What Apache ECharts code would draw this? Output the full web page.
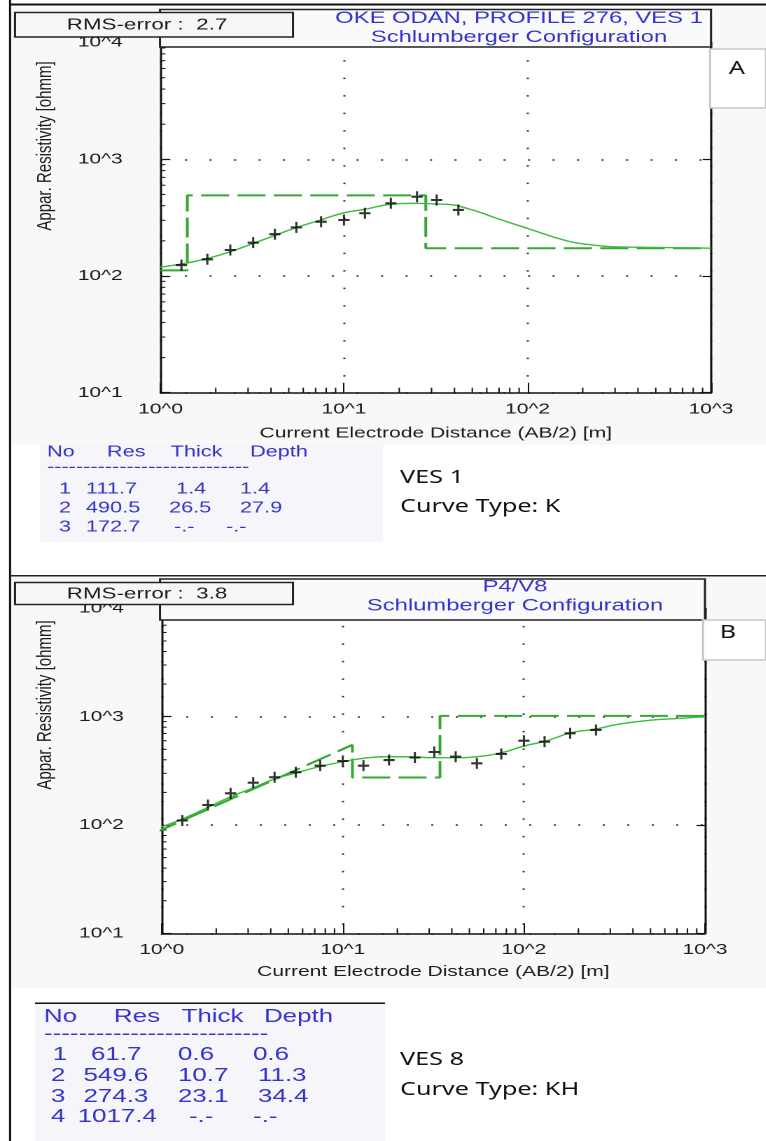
<!DOCTYPE html>
<html>
<head>
<meta charset="utf-8">
<title>VES 1 / VES 8 sounding curves</title>
<script src="https://cdn.jsdelivr.net/npm/echarts@6.0.0/dist/echarts.min.js"></script>
<style>
  html, body { margin: 0; padding: 0; background: #fff; overflow: hidden; }
  /* the reference figure is a screenshot stretched horizontally, so the chart is drawn narrow and stretched */
  #main { width: 547.14px; height: 1141px; transform: scaleX(1.4); transform-origin: 0 0; }
</style>
</head>
<body>
<div id="main"></div>
<script>
  // ---- data ----
  // VES 1 (panel A)
  const abA = [1.3, 1.8, 2.4, 3.2, 4.2, 5.5, 7.5, 10, 13, 18, 25, 32, 42]
  const rhoA = [124, 139, 167, 193, 228, 261, 292, 302, 345, 420, 478, 448, 368]
  const fitAbA = [1, 1.39, 1.82, 2.39, 3.14, 4.12, 5.34, 7.46, 10, 13, 17.9, 24.4, 31.5, 36.3, 48.6, 68, 100, 164, 229, 294, 446, 1000]
  const fitRhoA = [119, 129, 142, 161, 188, 220, 256, 302, 348, 373, 411, 420, 414, 411, 373, 312, 256, 200, 184, 178, 176, 173]
  const resA = [111.7, 490.5, 172.7]
  const thickA = [1.4, 26.5]
  const depthA = [1.4, 27.9]
  const rmsA = '2.7'
  const titleA = 'OKE ODAN, PROFILE 276, VES 1'

  // VES 8 (panel B)
  const abB = [1.3, 1.8, 2.4, 3.2, 4.2, 5.5, 7.5, 10, 13, 18, 25, 32, 42, 55, 75, 100, 130, 180, 250]
  const rhoB = [110, 153, 196, 246, 276, 307, 353, 390, 353, 398, 420, 472, 427, 371, 453, 600, 588, 703, 754]
  const fitAbB = [1, 1.29, 1.81, 2.35, 3.14, 4.19, 5.4, 7.4, 10, 13, 18.1, 24.5, 31.7, 42.3, 55.4, 75.6, 100, 134, 182, 245, 340, 520, 731, 1000]
  const fitRhoB = [96, 113, 146, 179, 218, 266, 300, 345, 384, 413, 428, 425, 418, 418, 428, 466, 536, 600, 711, 765, 857, 933, 966, 1000]
  const resB = [61.7, 549.6, 274.3, 1017.4]
  const thickB = [0.6, 10.7, 23.1]
  const depthB = [0.6, 11.3, 34.4]
  const rmsB = '3.8'
  const titleB = 'P4/V8'

  // axis ranges (decades)
  const xRange = [1, 1000]
  const yRange = [10, 10000]
  const minorSteps = [2, 3, 4, 5, 6, 7, 8, 9]

  // ---- layout ----
  const S = 1.4
  const px = x => x / S
  const FONT = 'Liberation Sans, Arial, sans-serif'
  const INK = '#1c1c1c'
  const BLUE = '#3434cc'
  const FIT = '#3cbb3c'
  const MODEL = '#34a834'

  function minorList (lo, hi) {
    let out = []
    for (let d = lo; d < hi; d *= 10) minorSteps.forEach(m => out.push(d * m))
    return out
  }

  // layered model as a step line
  function modelA (res, depth) {
    let pts = [[xRange[0], res[0]]]
    depth.forEach((d, i) => {
      pts.push([d, res[i]])
      pts.push([d, res[i + 1]])
    })
    pts.push([xRange[1], res[res.length - 1]])
    return pts
  }
  // panel B: the program joins the first layer corner to the second one with a slope
  function modelB (res, depth) {
    let pts = [[depth[0], res[0]], [depth[1], res[1]]]
    for (let i = 1; i < depth.length; i++) {
      if (i > 1) pts.push([depth[i], res[i]])
      pts.push([depth[i], res[i + 1]])
    }
    pts.push([xRange[1], res[res.length - 1]])
    return pts
  }

  function tableRows (res, thick, depth) {
    return res.map((r, i) => [
      String(i + 1),
      r.toFixed(1),
      i < thick.length ? thick[i].toFixed(1) : '-.-',
      i < depth.length ? depth[i].toFixed(1) : '-.-'
    ])
  }

  const powLabel = v => '10^' + Math.round(Math.log10(v))

  function xAxisOf (grid, gap) {
    return {
      type: 'log', logBase: 10, gridIndex: grid, min: xRange[0], max: xRange[1],
      name: 'Current Electrode Distance (AB/2) [m]', nameLocation: 'middle', nameGap: gap,
      nameTextStyle: { color: INK, fontSize: 15, fontFamily: FONT },
      axisLine: { lineStyle: { color: '#111', width: 1.5 } },
      axisTick: { inside: true, length: 10, lineStyle: { color: '#111', width: 1 } },
      axisLabel: { formatter: powLabel, margin: 9, color: INK, fontSize: 15, fontFamily: FONT, showMinLabel: true, showMaxLabel: true, hideOverlap: false },
      splitLine: { show: true, lineStyle: { color: '#333', width: 1.5, type: [1.5, 16] } }
    }
  }
  function yAxisOf (grid, side) {
    let left = side === 'left'
    return {
      type: 'log', logBase: 10, gridIndex: grid, position: side, min: yRange[0], max: yRange[1],
      axisLine: { show: true, lineStyle: { color: '#111', width: 1.5 } },
      axisTick: { show: true, inside: true, length: left ? 7 : 6, lineStyle: { color: '#111', width: 1.2 } },
      axisLabel: { show: left, formatter: powLabel, margin: 27, color: INK, fontSize: 15, fontFamily: FONT, showMinLabel: true, showMaxLabel: true, hideOverlap: false },
      splitLine: { show: left, lineStyle: { color: '#333', width: 1.5, type: [1.5, 16] } }
    }
  }

  function minorTickSeries (xi, yi, vertical) {
    let data = vertical
      ? minorList(xRange[0], xRange[1]).map(v => [v, yRange[0]])
      : minorList(yRange[0], yRange[1]).map(v => [xRange[0], v])
    return {
      type: 'custom', xAxisIndex: xi, yAxisIndex: yi, silent: true, clip: false, z: 3,
      data: data,
      renderItem: (params, api) => {
        let p = api.coord([api.value(0), api.value(1)])
        let shape = vertical
          ? { x1: p[0], y1: p[1], x2: p[0], y2: p[1] - 5 }
          : { x1: p[0], y1: p[1], x2: p[0] + 3.5, y2: p[1] }
        return { type: 'line', shape: shape, style: { stroke: '#111', lineWidth: 1 } }
      }
    }
  }

  const plusSymbol = 'path://M0,4.05H10V5.95H0ZM4.05,0H5.95V10H4.05Z'

  function curveSeries (xi, yi, ab, rho, fitAb, fitRho, model) {
    return [
      {
        type: 'line', xAxisIndex: xi, yAxisIndex: yi, data: model,
        showSymbol: false, symbol: 'none', z: 4,
        lineStyle: { color: MODEL, width: 2, type: [20, 6] }
      },
      {
        type: 'line', xAxisIndex: xi, yAxisIndex: yi, smooth: true,
        data: fitAb.map((x, i) => [x, fitRho[i]]),
        showSymbol: false, symbol: 'none', z: 5,
        lineStyle: { color: FIT, width: 1.4 }
      },
      {
        type: 'scatter', xAxisIndex: xi, yAxisIndex: yi, z: 6,
        data: ab.map((x, i) => [x, rho[i]]),
        symbol: plusSymbol, symbolSize: [8, 11],
        itemStyle: { color: '#000' }
      }
    ]
  }

  // ---- decoration (boxes and texts around the plots) ----
  function rect (x, y, w, h, fill, stroke, lw, z) {
    return { type: 'rect', z: z, silent: true, shape: { x: x, y: y, width: w, height: h }, style: { fill: fill, stroke: stroke || null, lineWidth: lw || 0 } }
  }
  function text (x, y, str, font, fill, align, z, rot) {
    return { type: 'text', z: z || 110, silent: true, x: x, y: y, rotation: rot || 0, style: { text: str, font: font, fill: fill, align: align || 'left', verticalAlign: 'middle' } }
  }

  function tableTexts (rows, headX, headY, dashY, dashes, cellX, rowY, size) {
    let f = size + 'px ' + FONT
    let out = []
    ;['No', 'Res', 'Thick', 'Depth'].forEach((h, i) => out.push(text(px(headX[i]), headY, h, f, BLUE)))
    out.push(text(px(headX[0]), dashY, '-'.repeat(dashes), f, BLUE))
    rows.forEach((r, i) => r.forEach((c, j) => out.push(text(px(cellX[i][j]), rowY[i], c, f, BLUE))))
    return out
  }

  const labelFont = '18px Noto Sans, sans-serif'
  const graphics = [
    // panel and table backgrounds
    rect(px(10), 5, px(756), 440, '#f8f8f8', null, 0, -10),
    rect(px(40), 445, px(343), 97, '#f5f5fa', null, 0, -10),
    rect(px(10), 576, px(756), 412, '#f8f8f8', null, 0, -10),
    rect(px(35), 1003, px(350), 138, '#f5f5fa', null, 0, -10),
    // borders
    rect(px(9), 0, 1.5, 1141, '#111', null, 0, 120),
    rect(px(10), 3.5, px(756), 2, '#111', null, 0, 120),
    rect(px(10), 575, px(756), 1.5, '#222', null, 0, 120),
    rect(px(35), 1002.5, px(350), 1.5, '#111', null, 0, 120),

    // panel A header
    rect(px(160), 9.5, px(551), 37.5, '#fafafa', '#222', 1.5, 100),
    rect(px(15), 12.5, px(278), 24.5, '#f6f6f6', '#222', 1.5, 101),
    text(px(147), 25, 'RMS-error :  ' + rmsA, '16px ' + FONT, INK, 'center'),
    text(px(519), 18.5, titleA, '17px ' + FONT, BLUE, 'center'),
    text(px(519), 37.5, 'Schlumberger Configuration', '17px ' + FONT, BLUE, 'center'),
    rect(px(710), 49, px(56), 59, '#ffffff', '#c8c8c8', 1.5, 100),
    text(px(737), 69, 'A', labelFont, '#111', 'center'),
    text(px(45), 146, 'Appar. Resistivity [ohmm]', '15px ' + FONT, INK, 'center', 110, Math.PI / 2),

    // panel B header
    rect(px(160), 579, px(545), 41, '#fafafa', '#222', 1.5, 100),
    rect(px(15), 582.5, px(278), 22, '#f6f6f6', '#222', 1.5, 101),
    text(px(147), 594, 'RMS-error :  ' + rmsB, '16px ' + FONT, INK, 'center'),
    text(px(515), 587, titleB, '17px ' + FONT, BLUE, 'center'),
    text(px(515), 606, 'Schlumberger Configuration', '17px ' + FONT, BLUE, 'center'),
    rect(px(703), 620, px(63), 40, '#ffffff', '#c8c8c8', 1.5, 100),
    text(px(728), 633, 'B', labelFont, '#111', 'center'),
    text(px(45), 705, 'Appar. Resistivity [ohmm]', '15px ' + FONT, INK, 'center', 110, Math.PI / 2),

    // captions
    text(px(400), 478, 'VES 1', labelFont, '#111'),
    text(px(400), 507, 'Curve Type: K', labelFont, '#111'),
    text(px(400), 1060, 'VES 8', labelFont, '#111'),
    text(px(400), 1090, 'Curve Type: KH', labelFont, '#111')
  ].concat(
    tableTexts(tableRows(resA, thickA, depthA), [47, 107, 170.6, 250], 452, 467, 28,
      [[59, 86, 176, 240], [59, 86, 169, 240], [59, 86, 174, 226]], [489, 508, 527], 15.5),
    tableTexts(tableRows(resB, thickB, depthB), [44, 114, 181.5, 264], 1017, 1034, 26,
      [[52.7, 91, 178, 253], [51, 83.5, 178, 258], [51, 83.5, 178, 258], [51, 77.7, 189, 253]],
      [1055, 1076, 1097, 1117], 18.5)
  )

  let myChart = echarts.init(document.getElementById('main'), null, { renderer: 'canvas', devicePixelRatio: 2 })
  myChart.setOption({
    animation: false,
    backgroundColor: '#ffffff',
    grid: [
      { left: px(160.5), top: 42.6, width: px(711 - 160.5), height: 350.1, show: true, backgroundColor: '#ffffff', borderWidth: 0, outerBoundsMode: 'none' },
      { left: px(161.7), top: 608.4, width: px(705 - 161.7), height: 324.9, show: true, backgroundColor: '#ffffff', borderWidth: 0, outerBoundsMode: 'none' }
    ],
    xAxis: [xAxisOf(0, 33), xAxisOf(1, 31)],
    yAxis: [yAxisOf(0, 'left'), yAxisOf(0, 'right'), yAxisOf(1, 'left'), yAxisOf(1, 'right')],
    series: [].concat(
      curveSeries(0, 0, abA, rhoA, fitAbA, fitRhoA, modelA(resA, depthA)),
      curveSeries(1, 2, abB, rhoB, fitAbB, fitRhoB, modelB(resB, depthB)),
      [minorTickSeries(0, 0, true), minorTickSeries(0, 0, false),
        minorTickSeries(1, 2, true), minorTickSeries(1, 2, false)]
    ),
    graphic: { elements: graphics }
  })
</script>
</body>
</html>
